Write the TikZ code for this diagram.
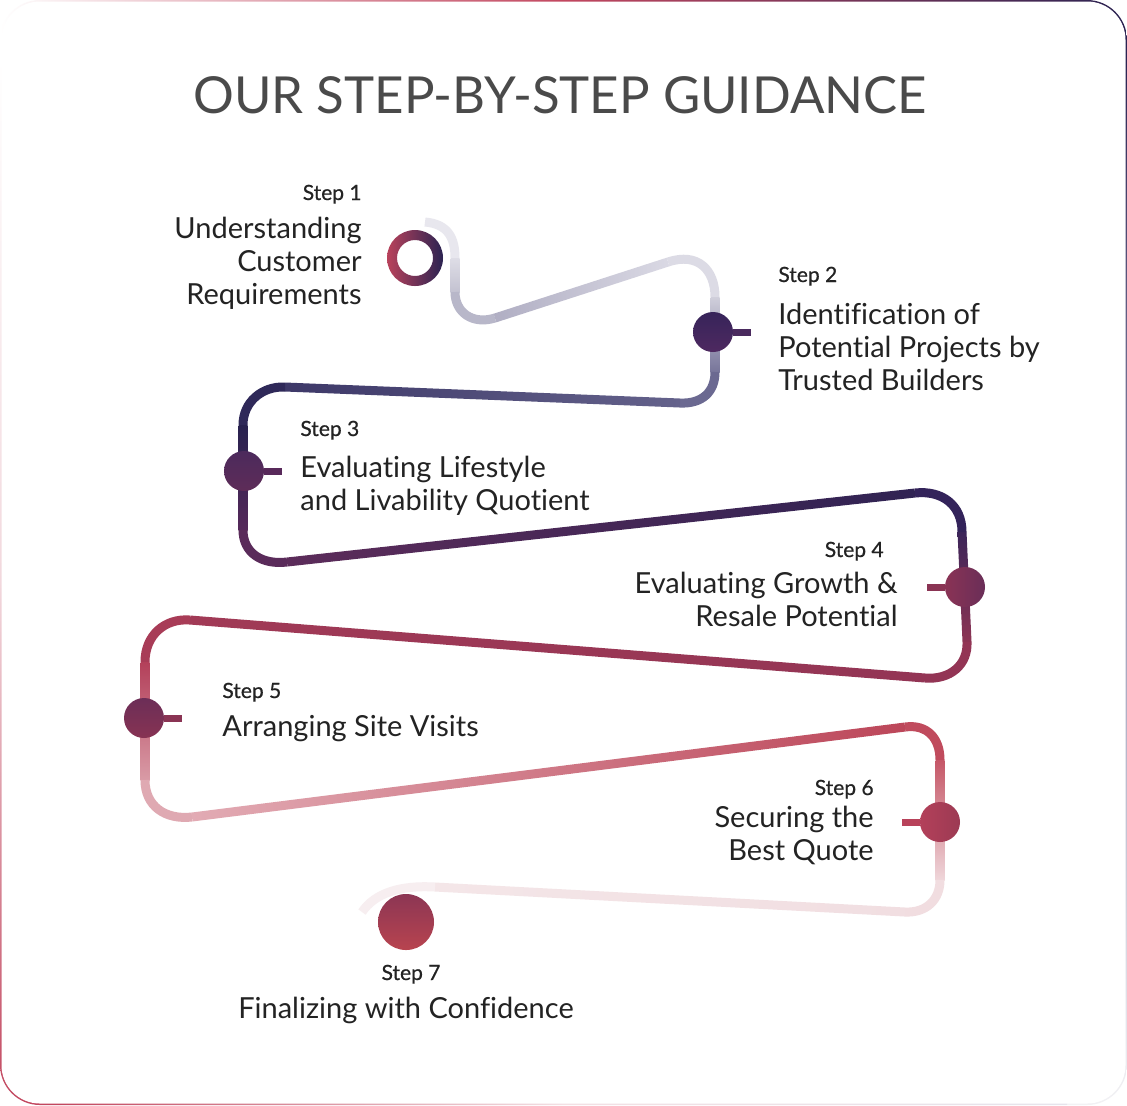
\documentclass[tikz,border=0pt]{standalone}
\usepackage{fontspec}
\setmainfont{Lato}[Ligatures={NoCommon}]
\usepackage{xcolor}
\usetikzlibrary{calc}

\definecolor{titlegray}{HTML}{4A4A4A}
\definecolor{textdark}{HTML}{232323}
\definecolor{bnavy}{HTML}{2B2352}
\definecolor{bred}{HTML}{C2475F}
\definecolor{blav}{HTML}{9C9AB6}
\definecolor{bpale}{HTML}{F2D8DD}
\definecolor{bfaint}{HTML}{E6E4EC}
\definecolor{bblush}{HTML}{F3E0E4}

\definecolor{roadA}{HTML}{E8E7EE}
\definecolor{roadA2}{HTML}{DEDDE6}
\definecolor{roadB}{HTML}{C3C2D1}
\definecolor{roadB2}{HTML}{B8B7C9}
\definecolor{roadC}{HTML}{B0AEC3}
\definecolor{roadD}{HTML}{DAD9E4}
\definecolor{roadE}{HTML}{DCDBE5}
\definecolor{roadF}{HTML}{D0CFDB}
\definecolor{roadG}{HTML}{77759A}
\definecolor{roadH}{HTML}{6B6991}
\definecolor{roadI}{HTML}{3D3868}
\definecolor{roadJ}{HTML}{64628B}
\definecolor{roadK}{HTML}{2F2959}
\definecolor{roadL}{HTML}{28224F}
\definecolor{roadM}{HTML}{55295A}
\definecolor{roadN}{HTML}{5A2B5A}
\definecolor{roadO}{HTML}{5C2C5A}
\definecolor{roadP}{HTML}{302353}
\definecolor{roadQ}{HTML}{33235A}
\definecolor{roadR}{HTML}{3B2559}
\definecolor{roadS}{HTML}{8D3454}
\definecolor{roadT}{HTML}{933555}
\definecolor{roadU}{HTML}{A13A56}
\definecolor{roadV}{HTML}{A83C57}
\definecolor{roadW}{HTML}{B3405A}
\definecolor{roadX}{HTML}{D99BA6}
\definecolor{roadY}{HTML}{DFA9B2}
\definecolor{roadZ}{HTML}{E2ABB4}
\definecolor{roadAA}{HTML}{BC4659}
\definecolor{roadAB}{HTML}{C04B5D}
\definecolor{roadAC}{HTML}{C55767}
\definecolor{roadAD}{HTML}{EFD6DA}
\definecolor{roadAE}{HTML}{F1DDE0}
\definecolor{roadAF}{HTML}{F4E6E8}
\definecolor{roadAG}{HTML}{F1DEE1}
\definecolor{roadAH}{HTML}{F7EEF0}

\definecolor{ringred}{HTML}{B9425B}
\definecolor{dotA}{HTML}{37245A}
\definecolor{dotB}{HTML}{4E2960}
\definecolor{dotC}{HTML}{4C2A5C}
\definecolor{dotD}{HTML}{5E2C58}
\definecolor{dotE}{HTML}{8A3355}
\definecolor{dotF}{HTML}{6A2E58}
\definecolor{dotG}{HTML}{6C2E57}
\definecolor{dotH}{HTML}{873353}
\definecolor{dotI}{HTML}{B3405A}
\definecolor{dotJ}{HTML}{9C3A53}
\definecolor{dotK}{HTML}{8C3654}
\definecolor{dotL}{HTML}{B8444F}
\definecolor{tickA}{HTML}{4A2A5E}
\definecolor{tickB}{HTML}{58295A}
\definecolor{tickC}{HTML}{8A3454}
\definecolor{tickD}{HTML}{B8425A}

% straight pieces of the road, shaded along their length
\newcommand{\hroad}[4]{\shade[left color=#3, right color=#4] ($#1!2.25pt!90:#2$) -- ($#2!2.25pt!-90:#1$) -- ($#2!2.25pt!90:#1$) -- ($#1!2.25pt!-90:#2$) -- cycle;}
\newcommand{\vroad}[4]{\shade[top color=#3, bottom color=#4] ($#1!2.25pt!90:#2$) -- ($#2!2.25pt!-90:#1$) -- ($#2!2.25pt!90:#1$) -- ($#1!2.25pt!-90:#2$) -- cycle;}

\begin{document}
\begin{tikzpicture}[x=0.5pt, y=-0.5pt,
	road/.style={line width=4.5pt, draw=#1},
	dot/.style={circle, minimum size=20pt, inner sep=0pt},
	tick/.style={line width=3.5pt, draw=#1},
	title/.style={font=\fontsize{25.5}{30}\selectfont, text=titlegray, inner sep=0pt, anchor=base},
	steptag/.style={font=\fontsize{10.5}{12}\selectfont\addfontfeatures{FakeBold=0.6}, text=textdark, inner sep=0pt},
	stepbody/.style={font=\fontsize{14.5}{16.5}\selectfont, text=textdark, inner sep=0pt}]

	\useasboundingbox (0,0) rectangle (1127,1105);
	\fill[white] (0,0) rectangle (1127,1105);

	\begin{scope}
		\clip[rounded corners=20pt] (0,0) rectangle (1127,1105);
		\shade[left color=white, right color=bnavy, middle color=bred] (0,0) rectangle (1127,60);
		\shade[top color=bnavy, bottom color=white!94!bnavy, middle color=blav] (1067,60) rectangle (1127,1105);
		\shade[top color=white, bottom color=bred, middle color=bpale] (0,60) rectangle (60,1105);
		\shade[left color=bred, right color=bfaint, middle color=bblush] (60,1045) rectangle (1067,1105);
	\end{scope}
	\fill[white, rounded corners=19.25pt] (1.5,1.5) rectangle (1125.5,1103.5);

	\node[title] (title) at (560,113) {OUR STEP-BY-STEP GUIDANCE};

	% the road
	\draw[road=roadA] (425,222) .. controls (448,224) and (455,238) .. (455,258);
	\vroad{(455,258)}{(455,292)}{roadA2}{roadB}
	\draw[road=roadB2] (455,292) .. controls (455,312) and (472,325) .. (495,318);
	\hroad{(495,318)}{(668,262)}{roadC}{roadD}
	\draw[road=roadE] (668,262) .. controls (698,252) and (715,270) .. (715,297);
	\vroad{(715,297)}{(715,372)}{roadF}{roadG}
	\draw[road=roadH] (715,372) .. controls (715,392) and (702,404) .. (680,403);
	\hroad{(285,387)}{(680,403)}{roadI}{roadJ}
	\draw[road=roadK] (285,387) .. controls (262,386) and (243,402) .. (243,425);
	\vroad{(243,425)}{(243,530)}{roadL}{roadM}
	\draw[road=roadN] (243,530) .. controls (243,553) and (262,565) .. (287,562);
	\hroad{(287,562)}{(915,493)}{roadO}{roadP}
	\draw[road=roadQ] (915,493) .. controls (942,490) and (962,505) .. (962,532);
	\vroad{(962,532)}{(967,642)}{roadR}{roadS}
	\draw[road=roadT] (967,642) .. controls (968,665) and (950,680) .. (925,678);
	\hroad{(190,620)}{(925,678)}{roadU}{roadT}
	\draw[road=roadV] (190,620) .. controls (165,618) and (145,635) .. (145,662);
	\vroad{(145,662)}{(145,780)}{roadW}{roadX}
	\draw[road=roadY] (145,780) .. controls (145,806) and (165,820) .. (192,817);
	\hroad{(192,817)}{(905,727)}{roadZ}{roadAA}
	\draw[road=roadAB] (905,727) .. controls (927,724) and (940,738) .. (940,760);
	\vroad{(940,760)}{(940,880)}{roadAC}{roadAD}
	\draw[road=roadAE] (940,880) .. controls (940,900) and (926,913) .. (905,912);
	\hroad{(435,887)}{(905,912)}{roadAF}{roadAG}
	\draw[road=roadAH] (435,887) .. controls (400,885) and (375,893) .. (362,912);

	% step markers
	\shade[even odd rule, left color=ringred, right color=bnavy] (415,258) circle (14pt) (415,258) circle (9pt);
	\node[dot, top color=dotA, bottom color=dotB] (c2) at (713,332) {};
	\draw[tick=tickA] (c2.east) -- ++(18,0);
	\node[dot, top color=dotC, bottom color=dotD] (c3) at (244,471) {};
	\draw[tick=tickB] (c3.east) -- ++(18,0);
	\node[dot, left color=dotE, right color=dotF] (c4) at (965,587) {};
	\draw[tick=tickC] (c4.west) -- ++(-18,0);
	\node[dot, top color=dotG, bottom color=dotH] (c5) at (144,718) {};
	\draw[tick=tickC] (c5.east) -- ++(18,0);
	\node[dot, left color=dotI, right color=dotJ] (c6) at (940,822) {};
	\draw[tick=tickD] (c6.west) -- ++(-18,0);
	\node[dot, minimum size=28pt, top color=dotK, bottom color=dotL] (c7) at (406,922) {};

	% texts
	\node[steptag, anchor=base east] (t1) at (362,200) {Step 1};
	\node[stepbody, anchor=north east, align=right] (b1) at (362,217) {Understanding\\Customer\\Requirements};

	\node[steptag, anchor=base west] (t2) at (778,282) {Step 2};
	\node[stepbody, anchor=north west, align=left] (b2) at (778,303) {Identification of\\Potential Projects by\\Trusted Builders};

	\node[steptag, anchor=base west] (t3) at (300,436) {Step 3};
	\node[stepbody, anchor=north west, align=left] (b3) at (300,456) {Evaluating Lifestyle\\and Livability Quotient};

	\node[steptag, anchor=base east] (t4) at (884,557) {Step 4};
	\node[stepbody, anchor=north east, align=right] (b4) at (898,572) {Evaluating Growth \&\\Resale Potential};

	\node[steptag, anchor=base west] (t5) at (222,698) {Step 5};
	\node[stepbody, anchor=north west, align=left] (b5) at (222,715) {Arranging Site Visits};

	\node[steptag, anchor=base east] (t6) at (874,795) {Step 6};
	\node[stepbody, anchor=north east, align=right] (b6) at (874,806) {Securing the\\Best Quote};

	\node[steptag, anchor=base] (t7) at (411,980) {Step 7};
	\node[stepbody, anchor=north, align=center] (b7) at (406,997) {Finalizing with Confidence};
\end{tikzpicture}
\end{document}
